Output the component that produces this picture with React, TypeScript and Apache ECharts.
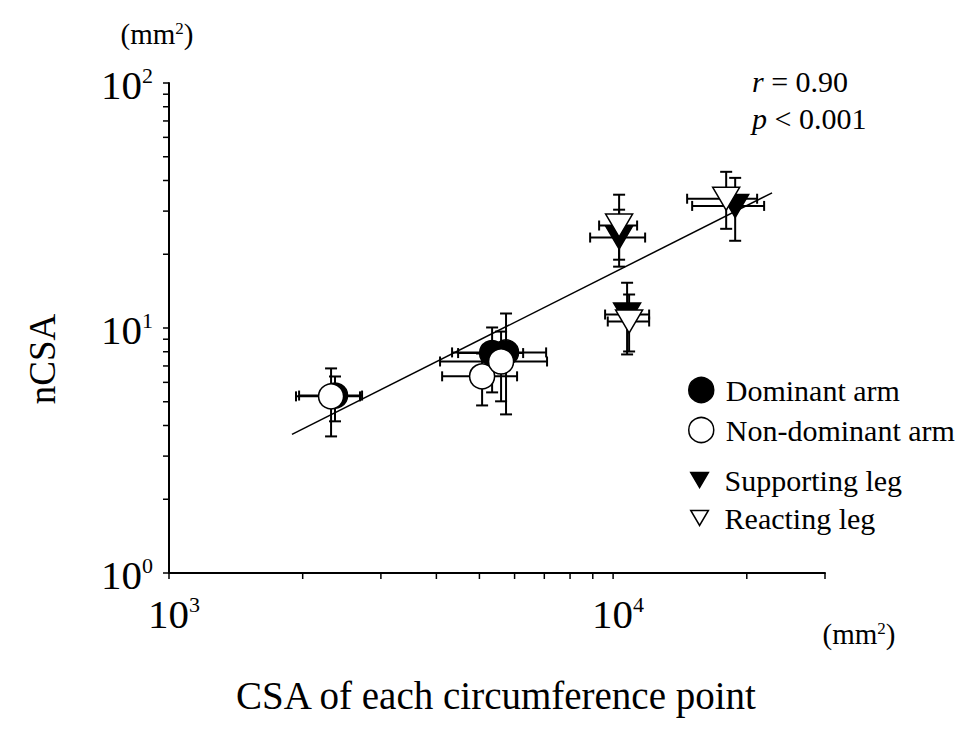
import React, { useEffect, useRef } from "react";
import * as echarts from "echarts";

const FONT = "'Liberation Serif', 'Times New Roman', serif";

// Dominant arm (filled circles)
const dominantX = [2365, 5340, 5740];
const dominantY = [5.3, 7.9, 7.95];
const dominantXLow = [1963, 4477, 4339];
const dominantXHigh = [2721, 6272, 7066];
const dominantYLow = [4.16, 5.46, 4.44];
const dominantYHigh = [6.34, 10.05, 11.46];

// Non-dominant arm (open circles)
const nonDominantX = [2317, 5070, 5594];
const nonDominantY = [5.26, 6.35, 7.3];
const nonDominantXLow = [1932, 4121, 4077];
const nonDominantXHigh = [2692, 6078, 7100];
const nonDominantYLow = [3.61, 4.83, 5.02];
const nonDominantYHigh = [6.84, 7.87, 9.67];

// Supporting leg (filled triangles)
const supportingX = [10316, 10752, 18830];
const supportingY = [23.4, 11.35, 31.5];
const supportingXLow = [8877, 9593, 15066];
const supportingXHigh = [11806, 12054, 21880];
const supportingYLow = [17.8, 7.8, 22.7];
const supportingYHigh = [30.4, 15.3, 41.0];

// Reacting leg (open triangles)
const reactingX = [10316, 10865, 17972];
const reactingY = [26.2, 10.63, 33.7];
const reactingXLow = [9300, 9727, 14678];
const reactingXHigh = [11325, 12054, 21100];
const reactingYLow = [19.0, 8.02, 25.4];
const reactingYHigh = [35.0, 13.7, 43.4];

// Regression line end points
const fitX = [1892, 22800];
const fitY = [3.68, 35.6];

// Axis ticks and labels
const xTicks = [1000, 2000, 3000, 4000, 5000, 6000, 7000, 8000, 9000, 10000, 20000, 30000];
const yTicks = [1, 2, 3, 4, 5, 6, 7, 8, 9, 10, 20, 30, 40, 50, 60, 70, 80, 90, 100];
const xLabelTicks = [1000, 10000];
const yLabelTicks = [1, 10, 100];

const statSymbols = ["r", "p"];
const statRests = [" = 0.90", " < 0.001"];
const unitText = "(mm";
const xTitle = "CSA of each circumference point";
const yTitle = "nCSA";

const TRI = "path://M0,0L20,0L10,17Z";

function errorSeries(name: string, xs: number[], ys: number[], xl: number[], xh: number[], yl: number[], yh: number[]) {
  return {
    type: "custom",
    name: name + " SD",
    coordinateSystem: "cartesian2d",
    clip: false,
    silent: true,
    z: 1,
    data: xs.map((x, i) => [x, ys[i], xl[i], xh[i], yl[i], yh[i]]),
    renderItem: (_p: any, api: any) => {
      const x = api.value(0);
      const y = api.value(1);
      const c = api.coord([x, y]);
      const l = api.coord([api.value(2), y]);
      const r = api.coord([api.value(3), y]);
      const b = api.coord([x, api.value(4)]);
      const t = api.coord([x, api.value(5)]);
      const st = { stroke: "#000", lineWidth: 2 };
      const capH = 5;
      const capV = 6;
      return {
        type: "group",
        children: [
          { type: "line", shape: { x1: l[0], y1: c[1], x2: r[0], y2: c[1] }, style: st },
          { type: "line", shape: { x1: l[0], y1: c[1] - capH, x2: l[0], y2: c[1] + capH }, style: st },
          { type: "line", shape: { x1: r[0], y1: c[1] - capH, x2: r[0], y2: c[1] + capH }, style: st },
          { type: "line", shape: { x1: c[0], y1: b[1], x2: c[0], y2: t[1] }, style: st },
          { type: "line", shape: { x1: c[0] - capV, y1: b[1], x2: c[0] + capV, y2: b[1] }, style: st },
          { type: "line", shape: { x1: c[0] - capV, y1: t[1], x2: c[0] + capV, y2: t[1] }, style: st },
        ],
      };
    },
  };
}

const supRich = (big: number, small: number) => ({
  a: { fontSize: big, fontFamily: FONT, fill: "#000", lineHeight: big },
  b: { fontSize: small, fontFamily: FONT, fill: "#000", lineHeight: 20, verticalAlign: "top" },
});

export default function App() {
  const ref = useRef<HTMLDivElement>(null);

  useEffect(() => {
    if (!ref.current) return;
    const chart = echarts.init(ref.current, undefined, { renderer: "svg" });

    const option: any = {
      animation: false,
      backgroundColor: "#fff",
      grid: { left: 169, right: 150, top: 83, bottom: 160, containLabel: false },
      xAxis: {
        type: "log",
        logBase: 10,
        min: 1000,
        max: 30000,
        axisLine: { show: true, onZero: false, lineStyle: { color: "#000", width: 2 } },
        axisTick: { show: false },
        axisLabel: { show: false },
        splitLine: { show: false },
        minorTick: { show: false },
      },
      yAxis: {
        type: "log",
        logBase: 10,
        min: 1,
        max: 100,
        axisLine: { show: true, onZero: false, lineStyle: { color: "#000", width: 2 } },
        axisTick: { show: false },
        axisLabel: { show: false },
        splitLine: { show: false },
        minorTick: { show: false },
      },
      legend: [
        {
          orient: "vertical",
          left: 683,
          top: 370,
          itemWidth: 25,
          itemHeight: 25,
          itemGap: 10,
          selectedMode: false,
          textStyle: { fontFamily: FONT, fontSize: 30, color: "#000", padding: [0, 0, 0, 7] },
          data: [
            { name: "Dominant arm", icon: "circle", itemStyle: { color: "#000", borderColor: "#000", borderWidth: 1.5 } },
            { name: "Non-dominant arm", icon: "circle", itemStyle: { color: "#fff", borderColor: "#000", borderWidth: 1.5 } },
          ],
        },
        {
          orient: "vertical",
          left: 685,
          top: 460,
          itemWidth: 20,
          itemHeight: 15,
          itemGap: 8,
          selectedMode: false,
          textStyle: { fontFamily: FONT, fontSize: 30, color: "#000", padding: [0, 0, 0, 10] },
          data: [
            { name: "Supporting leg", icon: TRI, itemStyle: { color: "#000", borderColor: "#000", borderWidth: 1.5 } },
            { name: "Reacting leg", icon: TRI, itemStyle: { color: "#fff", borderColor: "#000", borderWidth: 1.5 } },
          ],
        },
      ],
      graphic: [
        {
          type: "text",
          x: 157,
          y: 34,
          style: {
            text: "{a|" + unitText + "}{b|2}{a|)}",
            rich: supRich(29, 17),
            align: "center",
            verticalAlign: "middle",
            textAlign: "center",
            textVerticalAlign: "middle",
          },
        },
        {
          type: "text",
          x: 859,
          y: 634,
          style: {
            text: "{a|" + unitText + "}{b|2}{a|)}",
            rich: supRich(29, 17),
            align: "center",
            verticalAlign: "middle",
            textAlign: "center",
            textVerticalAlign: "middle",
          },
        },
        {
          type: "text",
          x: 496,
          y: 695,
          style: {
            text: xTitle,
            fontFamily: FONT,
            fontSize: 39,
            fill: "#000",
            align: "center",
            verticalAlign: "middle",
            textAlign: "center",
            textVerticalAlign: "middle",
          },
        },
        {
          type: "text",
          x: 42,
          y: 359,
          rotation: Math.PI / 2,
          style: {
            text: yTitle,
            fontFamily: FONT,
            fontSize: 37,
            fill: "#000",
            align: "center",
            verticalAlign: "middle",
            textAlign: "center",
            textVerticalAlign: "middle",
          },
        },
        ...statSymbols.map((s, i) => ({
          type: "text",
          x: 752,
          y: 81 + i * 37,
          style: {
            text: "{i|" + s + "}{n|" + statRests[i] + "}",
            rich: {
              i: { fontSize: 30, fontFamily: FONT, fontStyle: "italic", fill: "#000" },
              n: { fontSize: 30, fontFamily: FONT, fill: "#000" },
            },
            align: "left",
            verticalAlign: "middle",
            textAlign: "left",
            textVerticalAlign: "middle",
          },
        })),
      ],
      series: [
        errorSeries("Dominant arm", dominantX, dominantY, dominantXLow, dominantXHigh, dominantYLow, dominantYHigh),
        errorSeries("Non-dominant arm", nonDominantX, nonDominantY, nonDominantXLow, nonDominantXHigh, nonDominantYLow, nonDominantYHigh),
        errorSeries("Supporting leg", supportingX, supportingY, supportingXLow, supportingXHigh, supportingYLow, supportingYHigh),
        errorSeries("Reacting leg", reactingX, reactingY, reactingXLow, reactingXHigh, reactingYLow, reactingYHigh),
        {
          type: "scatter",
          name: "Dominant arm",
          z: 2,
          symbol: "circle",
          symbolSize: 25,
          itemStyle: { color: "#000", borderColor: "#000", borderWidth: 1.5, opacity: 1 },
          data: dominantX.map((x, i) => [x, dominantY[i]]),
        },
        {
          type: "scatter",
          name: "Supporting leg",
          z: 2,
          symbol: TRI,
          symbolSize: [27, 23],
          itemStyle: { color: "#000", borderColor: "#000", borderWidth: 1.5, opacity: 1 },
          data: supportingX.map((x, i) => [x, supportingY[i]]),
        },
        {
          type: "scatter",
          name: "Non-dominant arm",
          z: 3,
          symbol: "circle",
          symbolSize: 25,
          itemStyle: { color: "#fff", borderColor: "#000", borderWidth: 1.5, opacity: 1 },
          data: nonDominantX.map((x, i) => [x, nonDominantY[i]]),
        },
        {
          type: "scatter",
          name: "Reacting leg",
          z: 3,
          symbol: TRI,
          symbolSize: [27, 23],
          itemStyle: { color: "#fff", borderColor: "#000", borderWidth: 1.5, opacity: 1 },
          data: reactingX.map((x, i) => [x, reactingY[i]]),
        },
        {
          type: "line",
          name: "fit",
          z: 4,
          silent: true,
          symbol: "none",
          lineStyle: { color: "#000", width: 1.5 },
          data: fitX.map((x, i) => [x, fitY[i]]),
        },
        {
          type: "custom",
          name: "xticks",
          coordinateSystem: "cartesian2d",
          clip: false,
          silent: true,
          z: 5,
          data: xTicks.map((v) => [v, 1]),
          renderItem: (_p: any, api: any) => {
            const c = api.coord([api.value(0), api.value(1)]);
            return { type: "line", shape: { x1: c[0], y1: c[1], x2: c[0], y2: c[1] + 6 }, style: { stroke: "#000", lineWidth: 1.5 } };
          },
        },
        {
          type: "custom",
          name: "yticks",
          coordinateSystem: "cartesian2d",
          clip: false,
          silent: true,
          z: 5,
          data: yTicks.map((v) => [1000, v]),
          renderItem: (_p: any, api: any) => {
            const c = api.coord([api.value(0), api.value(1)]);
            return { type: "line", shape: { x1: c[0] - 6, y1: c[1], x2: c[0], y2: c[1] }, style: { stroke: "#000", lineWidth: 1.5 } };
          },
        },
        {
          type: "custom",
          name: "xlabels",
          coordinateSystem: "cartesian2d",
          clip: false,
          silent: true,
          z: 5,
          data: xLabelTicks.map((v) => [v, 1]),
          renderItem: (_p: any, api: any) => {
            const v = api.value(0);
            const c = api.coord([v, api.value(1)]);
            return {
              type: "text",
              x: c[0] - 21,
              y: c[1] + 41,
              style: {
                text: "{a|10}{b|" + Math.round(Math.log10(v)) + "}",
                rich: supRich(41, 22),
                align: "left",
                verticalAlign: "middle",
              },
            };
          },
        },
        {
          type: "custom",
          name: "ylabels",
          coordinateSystem: "cartesian2d",
          clip: false,
          silent: true,
          z: 5,
          data: yLabelTicks.map((v) => [1000, v]),
          renderItem: (_p: any, api: any) => {
            const v = api.value(1);
            const c = api.coord([api.value(0), v]);
            return {
              type: "text",
              x: c[0] - 16,
              y: c[1] + 2,
              style: {
                text: "{a|10}{b|" + Math.round(Math.log10(v)) + "}",
                rich: supRich(41, 22),
                align: "right",
                verticalAlign: "middle",
              },
            };
          },
        },
      ],
    };

    chart.setOption(option);
    return () => chart.dispose();
  }, []);

  return (
    <div
      ref={ref}
      style={{ position: "fixed", left: 0, top: 0, width: 975, height: 733, background: "#fff" }}
    />
  );
}
